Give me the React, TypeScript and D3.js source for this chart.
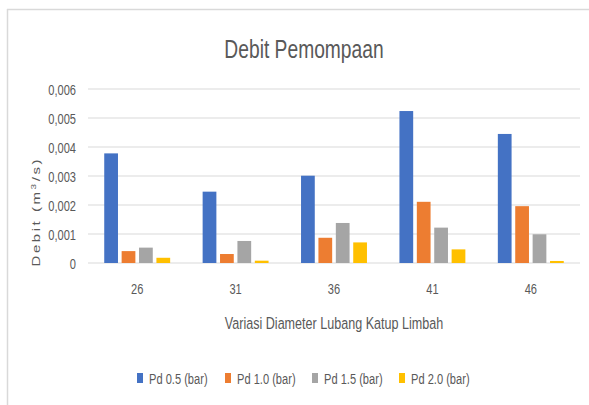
import React from "react";
import * as d3 from "d3";

const categories = ["26", "31", "36", "41", "46"];
const seriesNames = ["Pd 0.5 (bar)", "Pd 1.0 (bar)", "Pd 1.5 (bar)", "Pd 2.0 (bar)"];
const pd05 = [0.00378, 0.00246, 0.00301, 0.00524, 0.00445];
const pd10 = [0.00041, 0.00031, 0.00087, 0.00211, 0.00196];
const pd15 = [0.00053, 0.00076, 0.00138, 0.00122, 0.00099];
const pd20 = [0.00018, 0.00008, 0.00071, 0.00047, 0.00007];
const yTicks = [0, 0.001, 0.002, 0.003, 0.004, 0.005, 0.006];
const colors = ["#4472C4", "#ED7D31", "#A5A5A5", "#FFC000"];

const W = 589;
const H = 405;
const SX = 0.74;
const FONT = "'Liberation Sans', Arial, sans-serif";
const TXT = "#595959";

function SText(props: {
  x: number;
  y: number;
  size: number;
  anchor?: string;
  children: React.ReactNode;
  fill?: string;
}) {
  const { x, y, size, anchor = "start", children, fill = TXT } = props;
  return (
    <g transform={`translate(${x},${y}) scale(${SX},1)`}>
      <text x={0} y={0} fontSize={size} fontFamily={FONT} fill={fill} textAnchor={anchor}>
        {children}
      </text>
    </g>
  );
}

export default function App() {
  const series = [pd05, pd10, pd15, pd20];
  const x0 = d3.scaleBand<string>().domain(categories).range([88, 580]).paddingInner(0.33).paddingOuter(0.165);
  const x1 = d3
    .scaleBand<number>()
    .domain(d3.range(series.length))
    .range([0, x0.bandwidth()])
    .paddingInner(0.21)
    .paddingOuter(0);
  const y = d3.scaleLinear().domain([0, 0.006]).range([263, 89]);
  const fmt = (v: number) => (v === 0 ? "0" : d3.format(".3f")(v).replace(".", ","));

  const legendX = [137, 225, 312, 399];

  return (
    <svg width={W} height={H} style={{ position: "absolute", left: 0, top: 0, background: "#fff" }}>
      <rect x={0} y={0} width={W} height={H} fill="#fff" />
      {/* frame */}
      <line x1={7} x2={W} y1={9.5} y2={9.5} stroke="#d9d9d9" strokeWidth={1.5} />
      <line x1={7.5} x2={7.5} y1={9} y2={H} stroke="#d9d9d9" strokeWidth={1.5} />

      {/* title */}
      <SText x={304} y={58} size={26} anchor="middle">
        Debit Pemompaan
      </SText>

      {/* grid */}
      {yTicks.map((t) => (
        <g key={t}>
          <line x1={88} x2={580} y1={y(t)} y2={y(t)} stroke="#d9d9d9" strokeWidth={1.2} />
          <SText x={76} y={y(t) + 5.5} size={15} anchor="end">
            {fmt(t)}
          </SText>
        </g>
      ))}

      {/* bars */}
      {categories.map((c, i) => (
        <g key={c} transform={`translate(${x0(c)},0)`}>
          {series.map((s, j) => (
            <rect
              key={j}
              x={x1(j)}
              y={y(s[i])}
              width={x1.bandwidth()}
              height={y(0) - y(s[i])}
              fill={colors[j]}
            />
          ))}
        </g>
      ))}

      {/* x tick labels */}
      {categories.map((c) => (
        <SText key={c} x={(x0(c) as number) + x0.bandwidth() / 2} y={294} size={15} anchor="middle">
          {c}
        </SText>
      ))}

      {/* x title */}
      <SText x={334} y={329} size={17} anchor="middle">
        Variasi Diameter Lubang Katup Limbah
      </SText>

      {/* y title */}
      <g transform={`translate(40,213) rotate(-90) scale(1,${SX})`}>
        <text
          x={0}
          y={0}
          fontSize={15}
          fontFamily={FONT}
          fill={TXT}
          textAnchor="middle"
          textLength={107}
          lengthAdjust="spacing"
        >
          Debit (m
          <tspan fontSize={10} dy={-6}>
            3
          </tspan>
          <tspan dy={6}>/s)</tspan>
        </text>
      </g>

      {/* legend */}
      {seriesNames.map((n, j) => (
        <g key={n}>
          <rect x={legendX[j]} y={373} width={6} height={10} fill={colors[j]} />
          <SText x={legendX[j] + 12} y={383.5} size={15}>
            {n}
          </SText>
        </g>
      ))}
    </svg>
  );
}
